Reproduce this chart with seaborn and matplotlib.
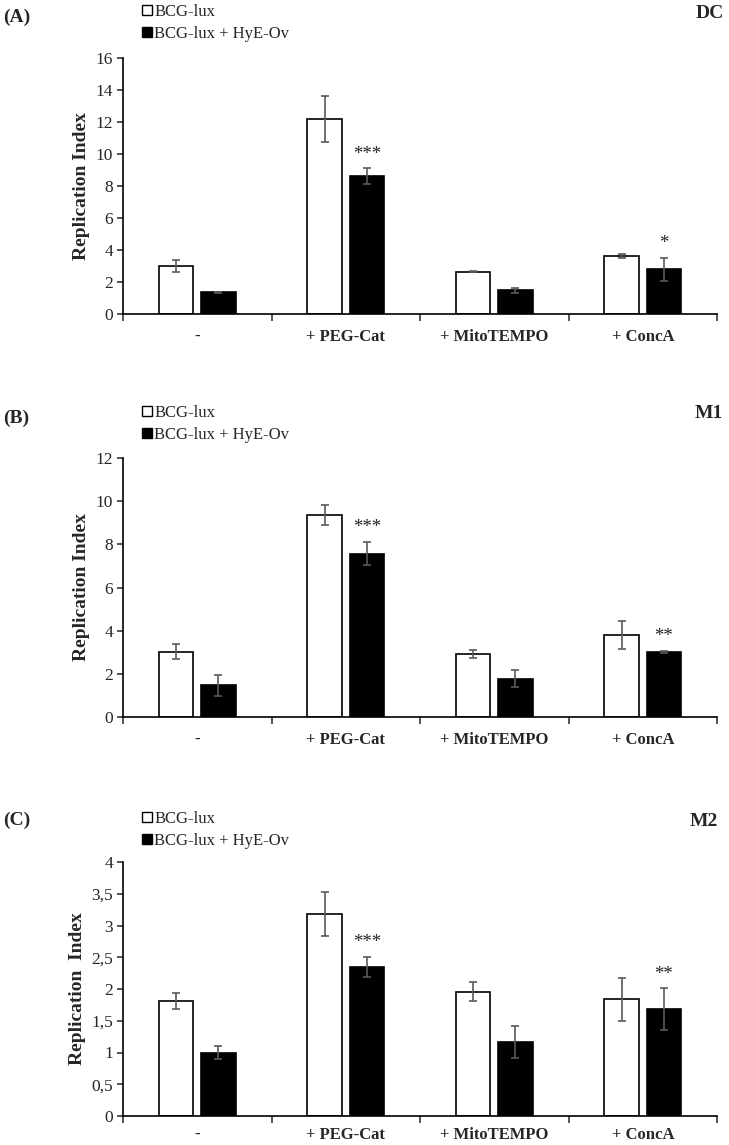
import pandas as pd
import matplotlib.pyplot as plt
import seaborn as sns
from matplotlib.patches import Patch

# Data
categories = ['-', '+ PEG-Cat', '+ MitoTEMPO', '+ ConcA']
groups = ['BCG-lux', 'BCG-lux + HyE-Ov']

dc_ctrl = [3.0, 12.2, 2.65, 3.6]
dc_ctrl_err = [0.35, 1.45, 0.04, 0.12]
dc_hye = [1.35, 8.6, 1.47, 2.8]
dc_hye_err = [0.04, 0.5, 0.16, 0.71]
dc_stars = ['', '***', '', '*']

m1_ctrl = [3.03, 9.35, 2.92, 3.8]
m1_ctrl_err = [0.33, 0.47, 0.19, 0.67]
m1_hye = [1.47, 7.57, 1.78, 3.02]
m1_hye_err = [0.48, 0.54, 0.39, 0.06]
m1_stars = ['', '***', '', '**']

m2_ctrl = [1.81, 3.18, 1.96, 1.84]
m2_ctrl_err = [0.12, 0.34, 0.15, 0.34]
m2_hye = [1.0, 2.35, 1.17, 1.68]
m2_hye_err = [0.11, 0.16, 0.25, 0.33]
m2_stars = ['', '***', '', '**']

dc_yticks = [0, 2, 4, 6, 8, 10, 12, 14, 16]
m1_yticks = [0, 2, 4, 6, 8, 10, 12]
m2_yticks = [0, 0.5, 1, 1.5, 2, 2.5, 3, 3.5, 4]
m2_yticklabels = ['0', '0,5', '1', '1,5', '2', '2,5', '3', '3,5', '4']

sns.set_style('ticks')
plt.rcParams['font.family'] = ['Liberation Serif', 'DejaVu Serif']

W, H = 729, 1145
palette = {groups[0]: 'white', groups[1]: 'black'}

fig = plt.figure(figsize=(W / 100, H / 100), dpi=100)


def fx(px):
    return px / W


def fy(py):
    return 1 - py / H


panels = [
    dict(tag='(A)', name='DC', ctrl=dc_ctrl, ctrl_err=dc_ctrl_err, hye=dc_hye,
         hye_err=dc_hye_err, stars=dc_stars, yticks=dc_yticks, ylabels=None,
         top=58, bottom=314, tag_y=17, name_y=13, name_x=724, leg_y=4, xpad=11,
         ylabel='Replication Index'),
    dict(tag='(B)', name='M1', ctrl=m1_ctrl, ctrl_err=m1_ctrl_err, hye=m1_hye,
         hye_err=m1_hye_err, stars=m1_stars, yticks=m1_yticks, ylabels=None,
         top=458, bottom=717, tag_y=418, name_y=414, name_x=723, leg_y=405, xpad=11,
         ylabel='Replication Index'),
    dict(tag='(C)', name='M2', ctrl=m2_ctrl, ctrl_err=m2_ctrl_err, hye=m2_hye,
         hye_err=m2_hye_err, stars=m2_stars, yticks=m2_yticks, ylabels=m2_yticklabels,
         top=862, bottom=1116, tag_y=820, name_y=822, name_x=718, leg_y=811, xpad=8,
         ylabel='Replication  Index'),
]

for p in panels:
    ax = fig.add_axes([fx(123), fy(p['bottom']), fx(717) - fx(123), fy(p['top']) - fy(p['bottom'])])

    df = pd.DataFrame({
        'condition': categories * 2,
        'group': [groups[0]] * 4 + [groups[1]] * 4,
        'value': p['ctrl'] + p['hye'],
        'err': p['ctrl_err'] + p['hye_err'],
        'star': [''] * 4 + p['stars'],
    })

    sns.barplot(data=df, x='condition', y='value', hue='group', order=categories,
                hue_order=groups, palette=palette, edgecolor='black', linewidth=1.2,
                width=0.57, gap=0.19, saturation=1, errorbar=None, legend=False, ax=ax)

    # error bars and significance stars on top of each bar
    for bar in ax.patches:
        cx = bar.get_x() + bar.get_width() / 2
        h = bar.get_height()
        cat = categories[int(round(cx))]
        grp = groups[0] if bar.get_facecolor()[0] > 0.5 else groups[1]
        row = df[(df['condition'] == cat) & (df['group'] == grp)].iloc[0]
        ax.errorbar(cx, h, yerr=row['err'], fmt='none', ecolor='#5a5a5a',
                    elinewidth=1.2, capsize=3, capthick=1.2)
        if row['star']:
            ax.annotate(row['star'], (cx, h + row['err']), xytext=(0, 4),
                        textcoords='offset points', ha='center', va='bottom',
                        fontsize=13.5, color='#222222')

    ax.set_xlim(-0.5, 3.5)
    ax.set_ylim(p['yticks'][0], p['yticks'][-1])
    if p['ylabels'] is None:
        ax.set_yticks(p['yticks'])
    else:
        ax.set_yticks(p['yticks'], p['ylabels'])
    ax.set_xticks(range(len(categories)), categories, fontweight='bold', fontsize=12)
    ax.set_xticks([i - 0.5 for i in range(len(categories) + 1)], minor=True)
    ax.tick_params(axis='x', which='major', length=0, pad=p['xpad'])
    ax.tick_params(axis='x', which='minor', length=5, width=1.1, direction='out')
    ax.tick_params(axis='y', length=4, width=1.1, direction='out', labelsize=12.5, pad=3)
    ax.set_xlabel('')
    ax.set_ylabel(p['ylabel'], fontsize=14, fontweight='bold', labelpad=4)
    sns.despine(ax=ax)
    for s in ['left', 'bottom']:
        ax.spines[s].set_linewidth(1.2)
        ax.spines[s].set_color('black')

    handles = [Patch(facecolor=palette[g], edgecolor='black', linewidth=1.0, label=g)
               for g in groups]
    ax.legend(handles=handles, loc='upper left', bbox_to_anchor=(fx(142), fy(p['leg_y'])),
              bbox_transform=fig.transFigure, frameon=False, fontsize=12,
              handlelength=0.6, handleheight=0.6, handletextpad=0.15,
              labelspacing=0.35, borderpad=0, borderaxespad=0)

    fig.text(fx(3), fy(p['tag_y']), p['tag'], fontsize=14, fontweight='bold',
             ha='left', va='center')
    fig.text(fx(p['name_x']), fy(p['name_y']), p['name'], fontsize=14, fontweight='bold',
             ha='right', va='center')

plt.savefig('out.png', dpi=100)
